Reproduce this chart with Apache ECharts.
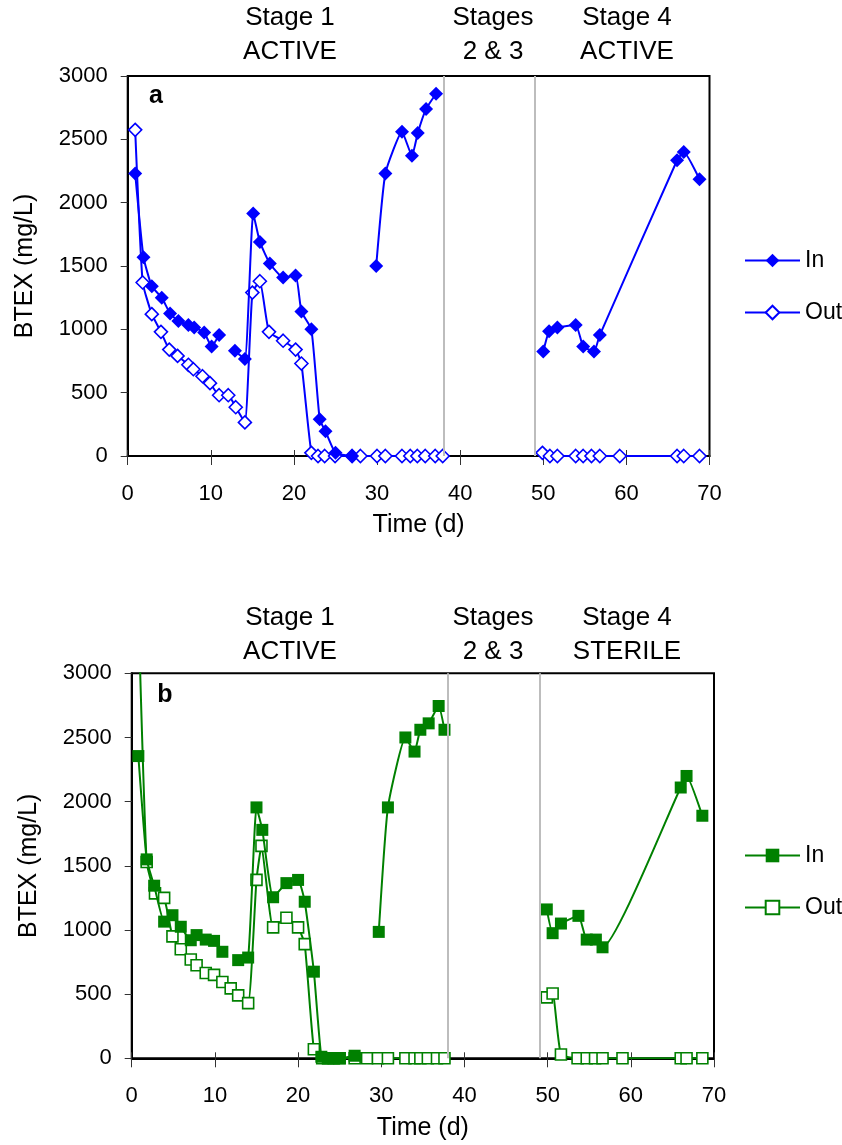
<!DOCTYPE html>
<html>
<head>
<meta charset="utf-8">
<script src="https://cdn.jsdelivr.net/npm/echarts@6/dist/echarts.min.js"></script>
<style>
html,body{margin:0;padding:0;background:#fff;}
#chart{width:842px;height:1145px;}
</style>
</head>
<body>
<div id="chart"></div>
<script>
// ---- Data (days, BTEX mg/L); null = break in the line ----
const daysA_In = [0.9, 1.9, 2.9, 4.1, 5.1, 6.1, 7.3, 8.0, 9.2, 10.1, 11.0, 12.0, 12.9, 14.1, 15.1, 15.9, 17.1, 18.7, 20.2, 20.9, 22.1, 23.1, 23.8, 25.0, 27.0, 28.5, 29.9, 31.0, 33.0, 34.2, 34.9, 35.9, 37.1, 43.0, 50.0, 50.7, 51.7, 53.9, 54.8, 56.1, 56.8, 66.1, 66.9, 68.8];
const btexA_In = [2230, 1570, 1340, 1250, 1125, 1065, 1035, 1015, 975, 865, 955, null, 830, 765, 1915, 1690, 1520, 1410, 1425, 1140, 1000, 290, 195, 25, 0, null, 1500, 2230, 2560, 2370, 2550, 2740, 2860, null, 825, 985, 1015, 1035, 865, 825, 955, 2335, 2400, 2185];

const daysA_Out = [0.9, 1.8, 2.9, 4.0, 5.0, 6.0, 7.3, 7.9, 9.0, 9.9, 11.0, 12.1, 13.0, 14.1, 15.0, 15.9, 17.0, 18.7, 20.2, 20.9, 22.1, 22.9, 23.7, 24.95, 27.0, 28.0, 30.0, 31.0, 33.0, 34.0, 34.85, 35.8, 37.0, 37.9, 43.0, 49.9, 50.8, 51.7, 53.9, 54.8, 55.8, 56.8, 59.2, 66.1, 66.9, 68.8];
const btexA_Out = [2575, 1370, 1120, 980, 840, 790, 720, 685, 630, 575, 480, 480, 385, 265, 1290, 1380, 980, 910, 840, 730, 25, 0, 0, 0, 0, 0, 0, 0, 0, 0, 0, 0, 0, 0, null, 25, 0, 0, 0, 0, 0, 0, 0, 0, 0, 0];

const daysB_In = [0.8, 1.8, 2.7, 3.9, 4.9, 5.9, 7.1, 7.8, 8.9, 9.9, 10.9, 12.0, 12.8, 14.0, 15.0, 15.7, 17.0, 18.6, 20.0, 20.8, 21.9, 22.8, 23.6, 24.3, 25.0, 26.8, 28.3, 29.7, 30.8, 32.9, 34.0, 34.7, 35.7, 36.9, 37.6, 43.0, 49.9, 50.6, 51.6, 53.7, 54.7, 55.8, 56.6, 66.0, 66.7, 68.6];
const btexB_In = [2355, 1550, 1345, 1065, 1115, 1025, 920, 960, 925, 915, 830, null, 765, 785, 1955, 1780, 1255, 1365, 1390, 1220, 675, 12, 0, 0, 0, 20, null, 985, 1955, 2500, 2390, 2560, 2610, 2745, 2560, null, 1160, 975, 1050, 1110, 925, 925, 865, 2110, 2200, 1890];

const daysB_Out = [0.8, 1.8, 2.8, 3.9, 4.9, 5.9, 7.1, 7.8, 8.9, 9.9, 10.9, 11.9, 12.8, 14.0, 15.0, 15.6, 17.0, 18.6, 20.0, 20.8, 21.9, 22.9, 23.6, 24.3, 25.0, 26.8, 28.3, 29.6, 30.8, 32.9, 34.0, 34.7, 35.6, 36.7, 37.6, 43.0, 49.9, 50.6, 51.6, 53.6, 54.7, 55.7, 56.6, 59.0, 66.0, 66.7, 68.6];
const btexB_Out = [3500, 1530, 1285, 1250, 950, 850, 770, 725, 665, 650, 595, 545, 490, 430, 1390, 1655, 1020, 1095, 1020, 890, 70, 0, 0, 0, 0, 0, 0, 0, 0, 0, 0, 0, 0, 0, 0, null, 475, 505, 30, 0, 0, 0, 0, 0, 0, 0, 0];

const stageDividers = [38, 49]; // days
const stageLabelsA = ['Stage 1\nACTIVE', 'Stages\n2 & 3', 'Stage 4\nACTIVE'];
const stageLabelsB = ['Stage 1\nACTIVE', 'Stages\n2 & 3', 'Stage 4\nSTERILE'];
const seriesNames = ['In', 'Out'];

// ---- Build ----
const FONT = '"Liberation Sans", Arial, sans-serif';
const BLUE = '#0000FF', GREEN = '#008000';

function zip(d, v) { return d.map((x, i) => v[i] === null ? [x, '-'] : [x, v[i]]); }

function xAxes(gi) {
  return [
    { gridIndex: gi, type: 'value', min: 0, max: 70, interval: 10, position: 'bottom',
      name: 'Time (d)', nameLocation: 'middle', nameGap: 57,
      nameTextStyle: { fontFamily: FONT, fontSize: 25, color: '#000' },
      axisLine: { onZero: false, lineStyle: { color: '#000', width: 2 } },
      axisTick: { show: true, length: 9, lineStyle: { color: '#333', width: 1 } },
      axisLabel: { margin: 27, fontFamily: FONT, fontSize: 22, color: '#000', formatter: v => String(v) },
      splitLine: { show: false } },
    { gridIndex: gi, type: 'value', min: 0, max: 70, interval: 10, position: 'bottom',
      axisLine: { show: false },
      axisTick: { show: true, inside: true, length: 6, lineStyle: { color: '#333', width: 1 } },
      axisLabel: { show: false }, splitLine: { show: false } }
  ];
}
function yAxis(gi) {
  return { gridIndex: gi, type: 'value', min: 0, max: 3000, interval: 500,
    name: 'BTEX (mg/L)', nameLocation: 'middle', nameGap: 90, nameRotate: 90,
    nameTextStyle: { fontFamily: FONT, fontSize: 25, color: '#000' },
    axisLine: { show: true, onZero: false, lineStyle: { color: '#000', width: 2 } },
    axisTick: { show: true, length: 7, lineStyle: { color: '#333', width: 1 } },
    axisLabel: { margin: 20, fontFamily: FONT, fontSize: 22, color: '#000', formatter: v => String(v) },
    splitLine: { show: false } };
}

function mkSeries(name, xi, yi, data, color, symbol, size, hollow, withMark) {
  const s = {
    name: name, type: 'line', xAxisIndex: xi, yAxisIndex: yi, data: data,
    smooth: 0.15, connectNulls: false, symbol: symbol, symbolSize: size,
    lineStyle: { color: color, width: 2 },
    itemStyle: hollow ? { color: '#fff', borderColor: color, borderWidth: 1.6 }
                      : { color: color, borderColor: color, borderWidth: 0 },
    emphasis: { disabled: true }, z: hollow ? 3 : 4
  };
  if (withMark) {
    s.markLine = { silent: true, symbol: 'none', label: { show: false },
      lineStyle: { color: '#BDBDBD', width: 2, type: 'solid' },
      data: stageDividers.map(d => ({ xAxis: d })) };
  }
  return s;
}

const legendBase = {
  orient: 'vertical', itemWidth: 55, itemHeight: 17, itemGap: 29,
  textStyle: { fontFamily: FONT, fontSize: 23, color: '#000' },
  selectedMode: false
};

function stageText(labels, cy) {
  const xs = [290, 493, 627];
  return labels.map((t, i) => ({
    type: 'text', x: xs[i], y: cy, z: 10,
    style: { text: t, fontFamily: FONT, fontSize: 26, lineHeight: 34, fill: '#000',
      align: 'center', verticalAlign: 'middle' }
  }));
}

const chart = echarts.init(document.getElementById('chart'), null, { renderer: 'canvas' });
chart.setOption({
  animation: false,
  backgroundColor: '#fff',
  grid: [
    { left: 127.7, right: 132.5, top: 76, height: 380, show: true, borderColor: '#000', borderWidth: 2, backgroundColor: 'transparent' },
    { left: 131.7, right: 128, top: 673.3, height: 385, show: true, borderColor: '#000', borderWidth: 2, backgroundColor: 'transparent' }
  ],
  xAxis: xAxes(0).concat(xAxes(1)),
  yAxis: [yAxis(0), yAxis(1)],
  legend: [
    Object.assign({}, legendBase, { left: 739, top: 244, data: [seriesNames[0], seriesNames[1]] }),
    Object.assign({}, legendBase, { left: 739, top: 839, data: [seriesNames[0] + ' (b)', seriesNames[1] + ' (b)'],
      formatter: n => n.replace(' (b)', '') })
  ],
  series: [
    mkSeries(seriesNames[1], 0, 0, zip(daysA_Out, btexA_Out), BLUE, 'diamond', 13, true, true),
    mkSeries(seriesNames[0], 0, 0, zip(daysA_In, btexA_In), BLUE, 'diamond', 14, false, false),
    mkSeries(seriesNames[1] + ' (b)', 2, 1, zip(daysB_Out, btexB_Out), GREEN, 'rect', 11, true, true),
    mkSeries(seriesNames[0] + ' (b)', 2, 1, zip(daysB_In, btexB_In), GREEN, 'rect', 12, false, false)
  ],
  graphic: [
    { type: 'text', x: 156, y: 96, z: 10, style: { text: 'a', fontFamily: FONT, fontWeight: 'bold', fontSize: 25, fill: '#000', align: 'center', verticalAlign: 'middle' } },
    { type: 'text', x: 165, y: 695, z: 10, style: { text: 'b', fontFamily: FONT, fontWeight: 'bold', fontSize: 25, fill: '#000', align: 'center', verticalAlign: 'middle' } }
  ].concat(stageText(stageLabelsA, 35)).concat(stageText(stageLabelsB, 635))
});
</script>
</body>
</html>
